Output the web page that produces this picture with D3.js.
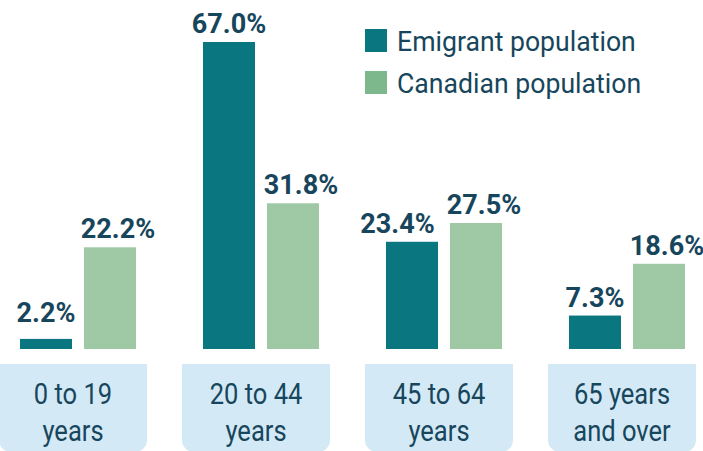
<!DOCTYPE html>
<html><head><meta charset="utf-8">
<script src="https://cdn.jsdelivr.net/npm/d3@7"></script>
<style>
body{margin:0;background:#fff;}
svg{display:block;}
text{font-family:Roboto,"Noto Sans",sans-serif;}
</style></head>
<body>
<svg id="chart" width="703" height="451"></svg>
<script>
const categories = ["0 to 19|years", "20 to 44|years", "45 to 64|years", "65 years|and over"];
const seriesNames = ["Emigrant population", "Canadian population"];
const emigrant = [2.2, 67.0, 23.4, 7.3];
const canadian = [22.2, 31.8, 27.5, 18.6];
const barColors = ["#0a7680", "#9fc9a4"];
const legendColors = ["#0a7680", "#7db78c"];
const textColor = "#17465c";

const svg = d3.select("#chart");
const baseY = 349;

const x0 = d3.scaleBand().domain(categories).range([20, 685]).paddingInner(0.366).paddingOuter(0);
const x1 = d3.scaleBand().domain(seriesNames).range([0, x0.bandwidth()]).paddingInner(0.1875).paddingOuter(0);
const y = d3.scaleLinear().domain([0, 67]).range([baseY, 42]);

const data = categories.map((c, i) => ({cat: c, vals: [emigrant[i], canadian[i]]}));

// category boxes
const boxTop = 364, boxBottom = 452, boxW = 148, r = 12;
const boxG = svg.append("g");
data.forEach(d => {
  const cx = x0(d.cat) + x0.bandwidth() / 2 - 5;
  const L = cx - boxW / 2, R = cx + boxW / 2;
  const p = d3.path();
  p.moveTo(L, boxTop); p.lineTo(R, boxTop); p.lineTo(R, boxBottom - r);
  p.arcTo(R, boxBottom, R - r, boxBottom, r);
  p.lineTo(L + r, boxBottom);
  p.arcTo(L, boxBottom, L, boxBottom - r, r);
  p.closePath();
  boxG.append("path").attr("d", p.toString()).attr("fill", "#d3e9f6");
  d.cat.split("|").forEach((ln, k) => {
    boxG.append("text")
      .attr("transform", `translate(${cx},${404 + k * 36.5}) scale(0.88,1)`)
      .attr("text-anchor", "middle")
      .attr("font-size", 29)
      .attr("fill", textColor)
      .text(ln);
  });
});

// bars
const groups = svg.append("g").selectAll("g").data(data).join("g")
  .attr("transform", d => `translate(${x0(d.cat)},0)`);
groups.selectAll("rect").data(d => d.vals.map((v, i) => ({v, s: seriesNames[i], i})))
  .join("rect")
  .attr("x", d => x1(d.s))
  .attr("y", d => y(d.v))
  .attr("width", x1.bandwidth())
  .attr("height", d => baseY - y(d.v))
  .attr("fill", d => barColors[d.i]);

// value labels with simple collision avoidance
const sx = 0.95;
groups.each(function(d) {
  const g = d3.select(this);
  const labels = d.vals.map((v, i) => {
    const t = g.append("text")
      .attr("text-anchor", "middle")
      .attr("font-size", 28.5)
      .attr("font-weight", "bold")
      .attr("fill", textColor)
      .text(v.toFixed(1) + "%");
    const w = t.node().getComputedTextLength() * sx;
    let cx = x1(seriesNames[i]) + x1.bandwidth() / 2 + (i === 1 ? 8 : 0);
    const yy = y(Math.max(v, 4)) - 9;
    return {t, w, cx, yy};
  });
  const a = labels[0], b = labels[1];
  if (Math.abs(a.yy - b.yy) < 26) {
    const overlap = (a.cx + a.w / 2) - (b.cx - b.w / 2) + 12;
    if (overlap > 0) a.cx -= overlap;
  }
  labels.forEach(l => l.t.attr("transform", `translate(${l.cx},${l.yy}) scale(${sx},1)`));
});

// legend
const leg = svg.append("g");
seriesNames.forEach((s, i) => {
  leg.append("rect").attr("x", 365).attr("y", 29 + i * 42).attr("width", 22).attr("height", 23).attr("fill", legendColors[i]);
  leg.append("text")
    .attr("transform", `translate(397,${51 + i * 42}) scale(0.935,1)`)
    .attr("font-size", 28.5)
    .attr("fill", textColor)
    .text(s);
});
</script>
</body></html>
